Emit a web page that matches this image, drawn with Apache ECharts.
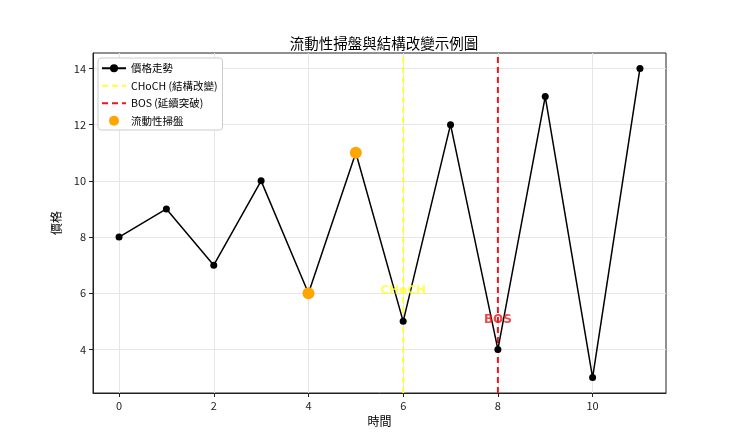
<!DOCTYPE html>
<html><head><meta charset="utf-8">
<script src="https://cdn.jsdelivr.net/npm/echarts@6/dist/echarts.min.js"></script>
<style>html,body{margin:0;padding:0;background:#fff}#c{width:740px;height:444px}</style>
</head><body><div id="c"></div>
<script>
const timeValues = [0,1,2,3,4,5,6,7,8,9,10,11];
const priceValues = [8,9,7,10,6,11,5,12,4,13,3,14];
const sweepPoints = [[4,6],[5,11]];
const chochX = 6;
const bosX = 8;
const chochLabel = [[6,6]];
const bosLabel = [[8,5]];
const xTicks = [0,2,4,6,8,10];
const yTicks = [4,6,8,10,12,14];
const XMIN=-0.55, XMAX=11.55, YMIN=2.45, YMAX=14.55;
const FONT = '"Noto Sans CJK TC","DejaVu Sans",sans-serif';
const chart = echarts.init(document.getElementById('c'));
chart.setOption({
  animation:false,
  textStyle:{fontFamily:FONT},
  title:{text:'流動性掃盤與結構改變示例圖',left:379,textAlign:'center',top:31,textStyle:{fontFamily:FONT,fontSize:14.5,fontWeight:'normal',color:'#000'}},
  grid:{left:93,right:74,top:53,bottom:51,show:true,borderColor:'#222',borderWidth:1,backgroundColor:'transparent'},
  legend:{
    orient:'vertical',left:98,top:58,itemWidth:24,itemHeight:10,itemGap:7,
    backgroundColor:'#fff',borderColor:'#ccc',borderWidth:1,borderRadius:3,padding:[5,5,4,3],
    textStyle:{fontFamily:FONT,fontSize:10.5,color:'#000'},
    data:[
      {name:'價格走勢'},
      {name:'CHoCH (結構改變)',itemStyle:{opacity:0}},
      {name:'BOS (延續突破)',itemStyle:{opacity:0}},
      {name:'流動性掃盤',icon:'circle'}
    ]
  },
  xAxis:{type:'value',min:XMIN,max:XMAX,name:'時間',nameLocation:'middle',nameGap:22,
    nameTextStyle:{fontFamily:FONT,fontSize:12,color:'#000'},
    axisLine:{show:true,onZero:false,lineStyle:{color:'#222'}},
    axisTick:{show:true,customValues:xTicks,length:4,lineStyle:{color:'#222'}},
    axisLabel:{customValues:xTicks,color:'#222',fontSize:11,margin:7},
    splitLine:{show:true,lineStyle:{color:'#e6e6e6'}}},
  yAxis:{type:'value',min:YMIN,max:YMAX,name:'價格',nameLocation:'middle',nameGap:26,
    nameTextStyle:{fontFamily:FONT,fontSize:12,color:'#000'},
    axisLine:{show:true,onZero:false,lineStyle:{color:'#222'}},
    axisTick:{show:true,customValues:yTicks,length:4,lineStyle:{color:'#222'}},
    axisLabel:{customValues:yTicks,color:'#222',fontSize:11,margin:7},
    splitLine:{show:true,lineStyle:{color:'#e6e6e6'}}},
  series:[
    {name:'價格走勢',type:'line',data:timeValues.map((t,i)=>[t,priceValues[i]]),
      symbol:'circle',symbolSize:7,showAllSymbol:true,
      lineStyle:{color:'#000',width:1.5},itemStyle:{color:'#000'},z:3},
    {name:'CHoCH (結構改變)',type:'line',data:[[chochX,YMIN],[chochX,YMAX]],symbol:'none',
      lineStyle:{color:'#ffff33',width:2,type:[6,4]},itemStyle:{color:'#ffff33'},z:2},
    {name:'BOS (延續突破)',type:'line',data:[[bosX,YMIN],[bosX,YMAX]],symbol:'none',
      lineStyle:{color:'#e8191c',width:2,type:[6,4]},itemStyle:{color:'#e8191c'},z:2},
    {name:'流動性掃盤',type:'scatter',data:sweepPoints,symbolSize:12,
      itemStyle:{color:'#ffa500',opacity:1},z:5},
    {name:'chochText',type:'scatter',data:chochLabel,symbolSize:0,z:6,
      label:{show:true,position:'top',distance:0,offset:[0,4],formatter:'CHoCH',color:'#ffff33',fontSize:12,fontWeight:'bold',fontFamily:'"DejaVu Sans",sans-serif'}},
    {name:'bosText',type:'scatter',data:bosLabel,symbolSize:0,z:6,
      label:{show:true,position:'top',distance:0,offset:[0,5],formatter:'BOS',color:'#e8191c',fontSize:12,fontWeight:'bold',fontFamily:'"DejaVu Sans",sans-serif'}}
  ]
});
</script></body></html>
